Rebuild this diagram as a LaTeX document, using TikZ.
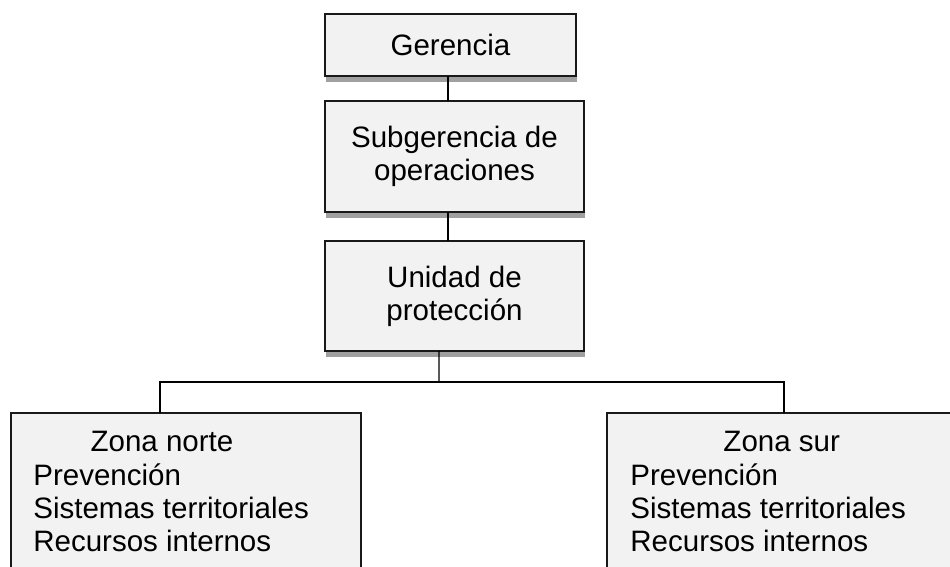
\documentclass[tikz,border=0pt]{standalone}
\usepackage{fontspec}
\setmainfont{Liberation Sans}
\usepackage{xcolor}
\usetikzlibrary{positioning,calc,shadows}

\definecolor{boxfill}{HTML}{F2F2F2}
\definecolor{shadowgray}{HTML}{A0A0A0}

\tikzset{
    unit/.style={draw=black!90, line width=1.1pt, fill=boxfill, inner sep=0pt, outer sep=0pt,
        align=center, font=\fontsize{16.8}{18.9}\selectfont},
    shadowed/.style={drop shadow={shadow xshift=0.02cm, shadow yshift=-0.12cm, fill=shadowgray, opacity=1}},
    link/.style={draw=black, line width=0.8pt},
    item/.style={inner sep=0pt, font=\fontsize{16.8}{18.9}\selectfont}
}

\begin{document}
\begin{tikzpicture}[x=0.02cm, y=-0.02cm]
    \useasboundingbox (0,0) rectangle (950,567);
    \clip (0,0) rectangle (950,567);

    % Top of the chart
    \node [unit, shadowed, minimum width=5.02cm, minimum height=1.24cm] (ger) at (450.5,45) {Gerencia};
    \node [unit, shadowed, minimum width=5.18cm, minimum height=2.21cm] (sub) at (454.5,156.3) {Subgerencia de\\operaciones};
    \node [unit, shadowed, minimum width=5.18cm, minimum height=2.2cm] (uni) at (454.5,296) {Unidad de\\protección};

    % Zones (cut by the page bottom)
    \node [unit, minimum width=7cm, minimum height=3.74cm] (norte) at (186,506.5) {};
    \node [unit, minimum width=7.66cm, minimum height=3.74cm] (sur) at (798.5,506.5) {};

    \node [item, anchor=base] (ntit) at (162,452) {Zona norte};
    \node [item, anchor=base west] (n1) at (33,485) {Prevención};
    \node [item, anchor=base west] (n2) at (33,518.3) {Sistemas territoriales};
    \node [item, anchor=base west] (n3) at (33,551.7) {Recursos internos};

    \node [item, anchor=base] (stit) at (781.7,452) {Zona sur};
    \node [item, anchor=base west] (s1) at (630,485) {Prevención};
    \node [item, anchor=base west] (s2) at (630,518.3) {Sistemas territoriales};
    \node [item, anchor=base west] (s3) at (630,551.7) {Recursos internos};

    % Connectors
    \coordinate (bus) at (439,382);
    \draw [link] ([xshift=-0.05cm]ger.south) -- ([xshift=-0.05cm]ger.south |- sub.north);
    \draw [link] ([xshift=-0.13cm]sub.south) -- ([xshift=-0.13cm]sub.south |- uni.north);
    \draw [link] ([xshift=-0.31cm]uni.south) -- (bus);
    \draw [link] ([xshift=-0.52cm]norte.north) |- (bus) -| ([xshift=-0.29cm]sur.north);
\end{tikzpicture}
\end{document}
